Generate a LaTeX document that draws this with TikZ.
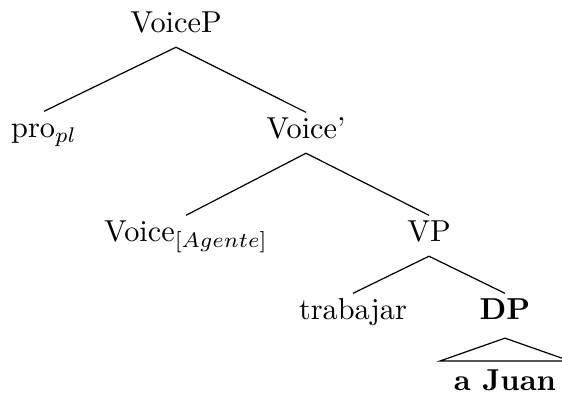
\documentclass[tikz,border=0pt]{standalone}
\begin{document}
\begin{tikzpicture}[x=0.33pt,y=-0.33pt,
  lab/.style={anchor=base,inner sep=2pt,outer sep=0pt,text height=6.8pt,text depth=2.7pt,font=\fontsize{10}{12}\selectfont},
  edge/.style={line width=0.4pt}]
\useasboundingbox (0,0) rectangle (562,394);
\node[lab] (voicep) at (176,33) {VoiceP};
\node[lab] (pro) at (44,138) {pro$_{pl}$};
\node[lab] (voicebar) at (306,139) {Voice'};
\node[lab] (voiceh) at (186,242) {Voice$_{[Agente]}$};
\node[lab] (vp) at (429,242) {VP};
\node[lab] (trab) at (353,320) {trabajar};
\node[lab] (dp) at (505,320) {\textbf{DP}};
\node[lab] (juan) at (505,391) {\textbf{a Juan}};
\draw[edge] (voicep.south) -- (pro.north);
\draw[edge] (voicep.south) -- (voicebar.north);
\draw[edge] (voicebar.south) -- (voiceh.north);
\draw[edge] (voicebar.south) -- (vp.north);
\draw[edge] (vp.south) -- (trab.north);
\draw[edge] (vp.south) -- (dp.south |- trab.north);
\coordinate (apex) at ([yshift=-1.3pt]dp.south);
\coordinate (roofl) at ([xshift=-65*0.33pt]apex |- 0,361);
\coordinate (roofr) at ([xshift=65*0.33pt]apex |- 0,361);
\draw[edge] (apex) -- (roofl) -- (roofr) -- cycle;
\end{tikzpicture}
\end{document}
